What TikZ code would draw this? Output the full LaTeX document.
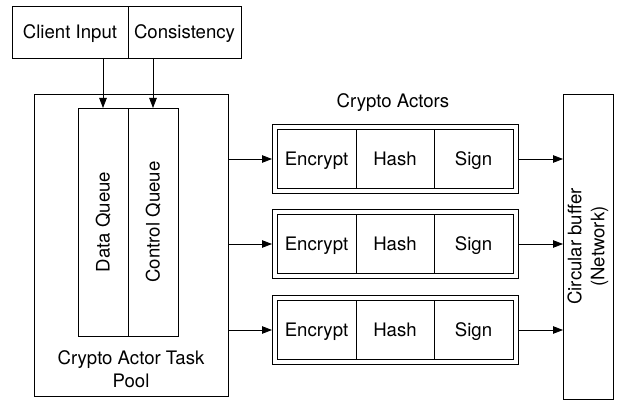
\documentclass[tikz,border=0pt]{standalone}
\usepackage{fontspec}
\setmainfont{TeX Gyre Heros}
\usetikzlibrary{arrows.meta}
\begin{document}
\begin{tikzpicture}[x=1pt,y=-1pt,
  line width=0.8pt,
  every node/.style={font=\fontsize{18.6}{23}\selectfont, inner sep=0pt, outer sep=0pt},
  lbl/.style={text height=13.4pt, text depth=0pt},
  arr/.style={-{Triangle[length=10pt,width=7.5pt]}},
]
\useasboundingbox (0,0) rectangle (618,403);
% top boxes
\node[draw, lbl, minimum width=116pt, minimum height=52pt] (ci) at (70,32) {Client Input};
\node[draw, lbl, minimum width=113pt, minimum height=52pt] (cons) at (184.5,32) {Consistency};
% pool
\node[draw, minimum width=194pt, minimum height=302pt] (pool) at (131,245) {};
\node[draw, minimum width=50pt, minimum height=228pt] (dq) at (103,222) {};
\node[draw, minimum width=50pt, minimum height=228pt] (cq) at (153,222) {};
\node[rotate=90, lbl] (dqt) at (dq.center) {Data Queue};
\node[rotate=90, lbl] (cqt) at (cq.center) {Control Queue};
\node[align=center] (poolt) at (131,369.5) {Crypto Actor Task\\Pool};
\draw[arr] (dq.north |- ci.south) -- (dq.north);
\draw[arr] (cq.north |- cons.south) -- (cq.north);
% circular buffer
\node[draw, minimum width=50pt, minimum height=305pt] (circ) at (588,246.5) {};
\node[rotate=90, align=center] (circt) at (circ.center) {Circular buffer\\(Network)};
% actors title
\node[lbl] (title) at (393,101) {Crypto Actors};
% actors
\foreach \i/\c in {1/159,2/244,3/330}{
  \node[draw, minimum width=246pt, minimum height=69pt] (a\i) at (395,\c) {};
  \node[draw, lbl, minimum width=79pt, minimum height=59pt] (e\i) at (316.5,\c) {Encrypt};
  \node[draw, lbl, minimum width=78pt, minimum height=59pt] (h\i) at (395,\c) {Hash};
  \node[draw, lbl, minimum width=79pt, minimum height=59pt] (s\i) at (473.5,\c) {Sign};
  \draw[arr] (pool.east |- a\i.west) -- (a\i.west);
  \draw[arr] (a\i.east) -- (circ.west |- a\i.east);
}
\end{tikzpicture}
\end{document}
